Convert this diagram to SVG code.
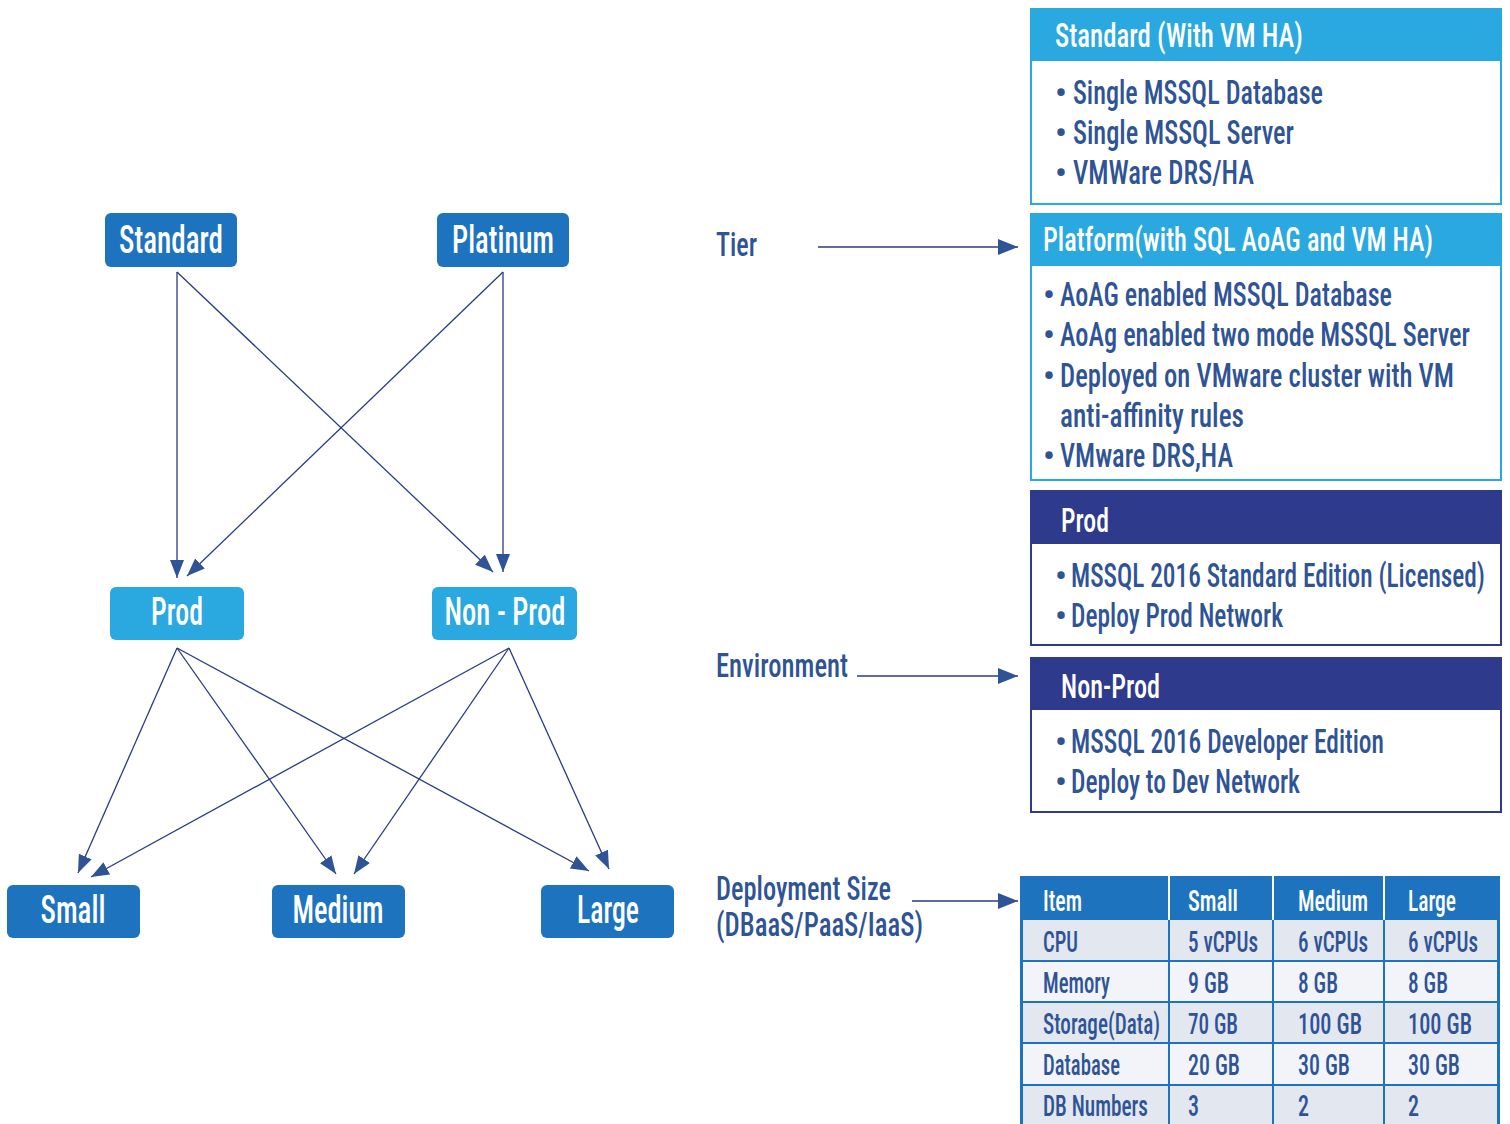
<svg xmlns="http://www.w3.org/2000/svg" width="1510" height="1124" viewBox="0 0 1510 1124">
<defs>
<marker id="ah" viewBox="0 0 18 14" refX="18" refY="7" markerWidth="18" markerHeight="14" markerUnits="userSpaceOnUse" orient="auto"><path d="M0,0 L18,7 L0,14 z" fill="#2F5496"/></marker>
<marker id="ah2" viewBox="0 0 20 16" refX="20" refY="8" markerWidth="20" markerHeight="16" markerUnits="userSpaceOnUse" orient="auto"><path d="M0,0 L20,8 L0,16 z" fill="#2F5496"/></marker>
<style>
text{font-family:"Roboto Condensed","DejaVu Sans Condensed","Liberation Sans Narrow",Roboto,"Liberation Sans",sans-serif;font-weight:500;}
.nl{fill:#fff;font-size:38px;text-anchor:middle;}
.dark{fill:#1E73BE;}
.light{fill:#29A9E0;}
.con{stroke:#2B3A85;stroke-width:1.3;fill:none;marker-end:url(#ah);}
.lcon{stroke:#2B3A85;stroke-width:1.6;fill:none;marker-end:url(#ah2);}
.ht{fill:#fff;font-size:34px;}
.bt{fill:#2F5496;font-size:34px;}
.lb{fill:#2F5496;font-size:33px;}
.tt{fill:#2F5496;font-size:29px;}
.th{fill:#fff;font-size:29px;}
</style>
</defs>
<rect width="1510" height="1124" fill="#fff"/>

<g id="connectors">
<line class="con" x1="177" y1="272" x2="177" y2="578"/>
<line class="con" x1="177" y1="272" x2="493" y2="572"/>
<line class="con" x1="503" y1="272" x2="187" y2="576"/>
<line class="con" x1="503" y1="272" x2="503" y2="572"/>
<line class="con" x1="177" y1="648" x2="78" y2="873"/>
<line class="con" x1="177" y1="648" x2="336" y2="874"/>
<line class="con" x1="177" y1="648" x2="589" y2="871"/>
<line class="con" x1="509" y1="648" x2="91" y2="877"/>
<line class="con" x1="509" y1="648" x2="354" y2="874"/>
<line class="con" x1="509" y1="648" x2="609" y2="869"/>
<line class="lcon" x1="818" y1="247" x2="1018" y2="247"/>
<line class="lcon" x1="857" y1="676" x2="1018" y2="676"/>
<line class="lcon" x1="912" y1="901" x2="1018" y2="901"/>
</g>

<g id="node-standard"><rect class="dark" x="105" y="213" width="132" height="54" rx="6"/><text class="nl" x="171" y="253" textLength="104" lengthAdjust="spacingAndGlyphs">Standard</text></g>
<g id="node-platinum"><rect class="dark" x="437" y="213" width="132" height="54" rx="6"/><text class="nl" x="503" y="253" textLength="102" lengthAdjust="spacingAndGlyphs">Platinum</text></g>
<g id="node-prod"><rect class="light" x="110" y="587" width="134" height="53" rx="6"/><text class="nl" x="177" y="625" textLength="52" lengthAdjust="spacingAndGlyphs">Prod</text></g>
<g id="node-nonprod"><rect class="light" x="432" y="587" width="145" height="53" rx="6"/><text class="nl" x="505" y="625" textLength="121" lengthAdjust="spacingAndGlyphs">Non - Prod</text></g>
<g id="node-small"><rect class="dark" x="7" y="885" width="133" height="53" rx="6"/><text class="nl" x="73" y="923" textLength="65" lengthAdjust="spacingAndGlyphs">Small</text></g>
<g id="node-medium"><rect class="dark" x="272" y="885" width="133" height="53" rx="6"/><text class="nl" x="338" y="923" textLength="91" lengthAdjust="spacingAndGlyphs">Medium</text></g>
<g id="node-large"><rect class="dark" x="541" y="885" width="133" height="53" rx="6"/><text class="nl" x="608" y="923" textLength="62" lengthAdjust="spacingAndGlyphs">Large</text></g>

<g id="label-tier"><text class="lb" x="716" y="256" textLength="41" lengthAdjust="spacingAndGlyphs">Tier</text></g>
<g id="label-environment"><text class="lb" x="716" y="677" textLength="132" lengthAdjust="spacingAndGlyphs">Environment</text></g>
<g id="label-size"><text class="lb" x="716" y="900" textLength="175" lengthAdjust="spacingAndGlyphs">Deployment Size</text><text class="lb" x="716" y="936" textLength="207" lengthAdjust="spacingAndGlyphs">(DBaaS/PaaS/IaaS)</text></g>

<g id="panel-standard">
<rect x="1031" y="60" width="470" height="144" fill="#fff" stroke="#29A9E0" stroke-width="2"/>
<rect x="1030" y="8" width="472" height="53" fill="#29A9E0"/>
<text class="ht" x="1055" y="47" textLength="248" lengthAdjust="spacingAndGlyphs">Standard (With VM HA)</text>
<text class="bt" x="1055" y="104">•</text><text class="bt" x="1073" y="104" textLength="250" lengthAdjust="spacingAndGlyphs">Single MSSQL Database</text>
<text class="bt" x="1055" y="144">•</text><text class="bt" x="1073" y="144" textLength="221" lengthAdjust="spacingAndGlyphs">Single MSSQL Server</text>
<text class="bt" x="1055" y="184">•</text><text class="bt" x="1073" y="184" textLength="181" lengthAdjust="spacingAndGlyphs">VMWare DRS/HA</text>
</g>

<g id="panel-platform">
<rect x="1031" y="265" width="470" height="215" fill="#fff" stroke="#29A9E0" stroke-width="2"/>
<rect x="1030" y="213" width="472" height="53" fill="#29A9E0"/>
<text class="ht" x="1043" y="251" textLength="390" lengthAdjust="spacingAndGlyphs">Platform(with SQL AoAG and VM HA)</text>
<text class="bt" x="1043" y="306">•</text><text class="bt" x="1060" y="306" textLength="332" lengthAdjust="spacingAndGlyphs">AoAG enabled MSSQL Database</text>
<text class="bt" x="1043" y="346">•</text><text class="bt" x="1060" y="346" textLength="410" lengthAdjust="spacingAndGlyphs">AoAg enabled two mode MSSQL Server</text>
<text class="bt" x="1043" y="387">•</text><text class="bt" x="1060" y="387" textLength="394" lengthAdjust="spacingAndGlyphs">Deployed on VMware cluster with VM</text>
<text class="bt" x="1060" y="427" textLength="184" lengthAdjust="spacingAndGlyphs">anti-affinity rules</text>
<text class="bt" x="1043" y="467">•</text><text class="bt" x="1060" y="467" textLength="173" lengthAdjust="spacingAndGlyphs">VMware DRS,HA</text>
</g>

<g id="panel-prod">
<rect x="1031" y="543" width="470" height="102" fill="#fff" stroke="#2E3A8C" stroke-width="2"/>
<rect x="1030" y="490" width="472" height="54" fill="#2E3A8C"/>
<text class="ht" x="1061" y="532" textLength="48" lengthAdjust="spacingAndGlyphs">Prod</text>
<text class="bt" x="1055" y="587">•</text><text class="bt" x="1071" y="587" textLength="414" lengthAdjust="spacingAndGlyphs">MSSQL 2016 Standard Edition (Licensed)</text>
<text class="bt" x="1055" y="627">•</text><text class="bt" x="1071" y="627" textLength="212" lengthAdjust="spacingAndGlyphs">Deploy Prod Network</text>
</g>

<g id="panel-nonprod">
<rect x="1031" y="709" width="470" height="103" fill="#fff" stroke="#2E3A8C" stroke-width="2"/>
<rect x="1030" y="657" width="472" height="53" fill="#2E3A8C"/>
<text class="ht" x="1061" y="698" textLength="99" lengthAdjust="spacingAndGlyphs">Non-Prod</text>
<text class="bt" x="1055" y="753">•</text><text class="bt" x="1071" y="753" textLength="313" lengthAdjust="spacingAndGlyphs">MSSQL 2016 Developer Edition</text>
<text class="bt" x="1055" y="793">•</text><text class="bt" x="1071" y="793" textLength="229" lengthAdjust="spacingAndGlyphs">Deploy to Dev Network</text>
</g>

<g id="table-size">
<rect x="1020" y="876" width="480" height="248" fill="#1E73BE"/>
<rect x="1023" y="920" width="145" height="40" fill="#E2E7F0"/><rect x="1170" y="920" width="102" height="40" fill="#E2E7F0"/><rect x="1274" y="920" width="109" height="40" fill="#E2E7F0"/><rect x="1385" y="920" width="112" height="40" fill="#E2E7F0"/>
<rect x="1023" y="962" width="145" height="39" fill="#F2F4F9"/><rect x="1170" y="962" width="102" height="39" fill="#F2F4F9"/><rect x="1274" y="962" width="109" height="39" fill="#F2F4F9"/><rect x="1385" y="962" width="112" height="39" fill="#F2F4F9"/>
<rect x="1023" y="1003" width="145" height="39" fill="#E2E7F0"/><rect x="1170" y="1003" width="102" height="39" fill="#E2E7F0"/><rect x="1274" y="1003" width="109" height="39" fill="#E2E7F0"/><rect x="1385" y="1003" width="112" height="39" fill="#E2E7F0"/>
<rect x="1023" y="1044" width="145" height="40" fill="#F2F4F9"/><rect x="1170" y="1044" width="102" height="40" fill="#F2F4F9"/><rect x="1274" y="1044" width="109" height="40" fill="#F2F4F9"/><rect x="1385" y="1044" width="112" height="40" fill="#F2F4F9"/>
<rect x="1023" y="1086" width="145" height="38" fill="#E2E7F0"/><rect x="1170" y="1086" width="102" height="38" fill="#E2E7F0"/><rect x="1274" y="1086" width="109" height="38" fill="#E2E7F0"/><rect x="1385" y="1086" width="112" height="38" fill="#E2E7F0"/>
<rect x="1168" y="876" width="2" height="44" fill="#fff"/><rect x="1272" y="876" width="2" height="44" fill="#fff"/><rect x="1383" y="876" width="2" height="44" fill="#fff"/>
<text class="th" x="1043" y="911" textLength="39" lengthAdjust="spacingAndGlyphs">Item</text>
<text class="th" x="1188" y="911" textLength="50" lengthAdjust="spacingAndGlyphs">Small</text>
<text class="th" x="1298" y="911" textLength="70" lengthAdjust="spacingAndGlyphs">Medium</text>
<text class="th" x="1408" y="911" textLength="48" lengthAdjust="spacingAndGlyphs">Large</text>
<text class="tt" x="1043" y="952" textLength="35" lengthAdjust="spacingAndGlyphs">CPU</text>
<text class="tt" x="1188" y="952" textLength="70" lengthAdjust="spacingAndGlyphs">5 vCPUs</text>
<text class="tt" x="1298" y="952" textLength="70" lengthAdjust="spacingAndGlyphs">6 vCPUs</text>
<text class="tt" x="1408" y="952" textLength="70" lengthAdjust="spacingAndGlyphs">6 vCPUs</text>
<text class="tt" x="1043" y="993" textLength="67" lengthAdjust="spacingAndGlyphs">Memory</text>
<text class="tt" x="1188" y="993" textLength="41" lengthAdjust="spacingAndGlyphs">9 GB</text>
<text class="tt" x="1298" y="993" textLength="40" lengthAdjust="spacingAndGlyphs">8 GB</text>
<text class="tt" x="1408" y="993" textLength="40" lengthAdjust="spacingAndGlyphs">8 GB</text>
<text class="tt" x="1043" y="1034" textLength="117" lengthAdjust="spacingAndGlyphs">Storage(Data)</text>
<text class="tt" x="1188" y="1034" textLength="50" lengthAdjust="spacingAndGlyphs">70 GB</text>
<text class="tt" x="1298" y="1034" textLength="64" lengthAdjust="spacingAndGlyphs">100 GB</text>
<text class="tt" x="1408" y="1034" textLength="64" lengthAdjust="spacingAndGlyphs">100 GB</text>
<text class="tt" x="1043" y="1075" textLength="77" lengthAdjust="spacingAndGlyphs">Database</text>
<text class="tt" x="1188" y="1075" textLength="52" lengthAdjust="spacingAndGlyphs">20 GB</text>
<text class="tt" x="1298" y="1075" textLength="52" lengthAdjust="spacingAndGlyphs">30 GB</text>
<text class="tt" x="1408" y="1075" textLength="52" lengthAdjust="spacingAndGlyphs">30 GB</text>
<text class="tt" x="1043" y="1116" textLength="105" lengthAdjust="spacingAndGlyphs">DB Numbers</text>
<text class="tt" x="1188" y="1116" textLength="11" lengthAdjust="spacingAndGlyphs">3</text>
<text class="tt" x="1298" y="1116" textLength="11" lengthAdjust="spacingAndGlyphs">2</text>
<text class="tt" x="1408" y="1116" textLength="11" lengthAdjust="spacingAndGlyphs">2</text>
</g>
</svg>
